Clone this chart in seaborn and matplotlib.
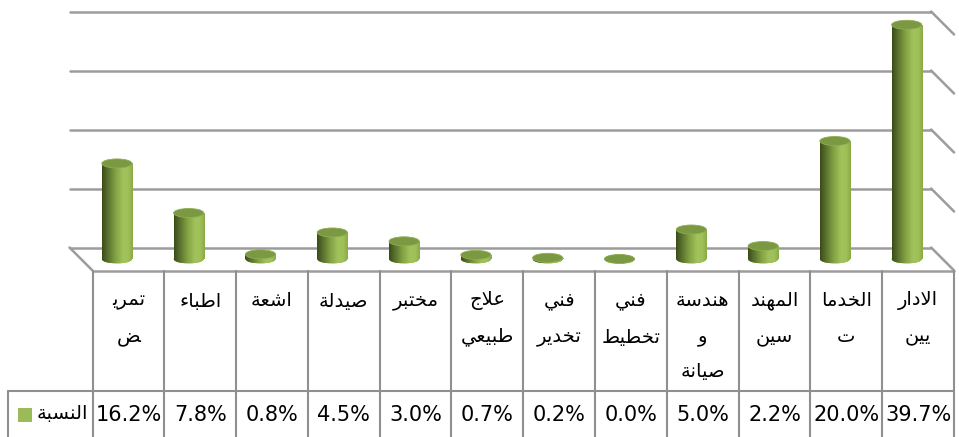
import numpy as np
import pandas as pd
import seaborn as sns
import matplotlib
matplotlib.use("Agg")
import matplotlib.pyplot as plt
from matplotlib.patches import Ellipse, Rectangle
from matplotlib.lines import Line2D
from matplotlib.colors import LinearSegmentedColormap
import matplotlib.transforms as mtrans

# ---------------- data ----------------
# "\n" separates words onto lines, "\u00ad" marks a break inside a word
categories = ["تمري\u00adض", "اطباء", "اشعة", "صيدلة", "مختبر", "علاج\nطبيعي",
              "فني\nتخدير", "فني\nتخطيط", "هندسة\nو\nصيانة", "المهند\u00adسين",
              "الخدما\u00adت", "الادار\u00adيين"]
values = [16.2, 7.8, 0.8, 4.5, 3.0, 0.7, 0.2, 0.0, 5.0, 2.2, 20.0, 39.7]
series_name = "النسبة"
grid_levels = [0, 10, 20, 30, 40]

# ---------------- minimal Arabic shaping ----------------
FORMS = {
    "\u0621": ("\ufe80",),
    "\u0627": ("\ufe8d", "\ufe8e"),
    "\u0628": ("\ufe8f", "\ufe90", "\ufe91", "\ufe92"),
    "\u0629": ("\ufe93", "\ufe94"),
    "\u062a": ("\ufe95", "\ufe96", "\ufe97", "\ufe98"),
    "\u062c": ("\ufe9d", "\ufe9e", "\ufe9f", "\ufea0"),
    "\u062e": ("\ufea5", "\ufea6", "\ufea7", "\ufea8"),
    "\u062f": ("\ufea9", "\ufeaa"),
    "\u0631": ("\ufead", "\ufeae"),
    "\u0633": ("\ufeb1", "\ufeb2", "\ufeb3", "\ufeb4"),
    "\u0634": ("\ufeb5", "\ufeb6", "\ufeb7", "\ufeb8"),
    "\u0635": ("\ufeb9", "\ufeba", "\ufebb", "\ufebc"),
    "\u0636": ("\ufebd", "\ufebe", "\ufebf", "\ufec0"),
    "\u0637": ("\ufec1", "\ufec2", "\ufec3", "\ufec4"),
    "\u0639": ("\ufec9", "\ufeca", "\ufecb", "\ufecc"),
    "\u0641": ("\ufed1", "\ufed2", "\ufed3", "\ufed4"),
    "\u0644": ("\ufedd", "\ufede", "\ufedf", "\ufee0"),
    "\u0645": ("\ufee1", "\ufee2", "\ufee3", "\ufee4"),
    "\u0646": ("\ufee5", "\ufee6", "\ufee7", "\ufee8"),
    "\u0647": ("\ufee9", "\ufeea", "\ufeeb", "\ufeec"),
    "\u0648": ("\ufeed", "\ufeee"),
    "\u064a": ("\ufef1", "\ufef2", "\ufef3", "\ufef4"),
}
SOFT = "\u00ad"


def _dual(c):
    return c in FORMS and len(FORMS[c]) == 4


def _joining(c):
    return c in FORMS and len(FORMS[c]) >= 2


def shape_lines(text):
    """Return display lines (visual order) for an Arabic label."""
    chars = list(text)
    n = len(chars)

    def neighbour(i, step):
        j = i + step
        while 0 <= j < n and chars[j] == SOFT:
            j += step
        return chars[j] if 0 <= j < n else None

    out = []
    i = 0
    while i < n:
        c = chars[i]
        if c not in FORMS:
            out.append(c)
            i += 1
            continue
        prev = neighbour(i, -1)
        prev_joins = prev is not None and _dual(prev)
        nxt = neighbour(i, 1)
        if c == "\u0644" and nxt == "\u0627":
            out.append("\ufefc" if prev_joins else "\ufefb")
            i += 2
            continue
        next_joins = nxt is not None and _joining(nxt)
        f = FORMS[c]
        if len(f) == 1:
            out.append(f[0])
        elif len(f) == 2:
            out.append(f[1] if prev_joins else f[0])
        else:
            if prev_joins and next_joins:
                out.append(f[3])
            elif prev_joins:
                out.append(f[1])
            elif next_joins:
                out.append(f[2])
            else:
                out.append(f[0])
        i += 1
    shaped = "".join(out).replace(SOFT, "\n")
    return [ln[::-1] for ln in shaped.split("\n")]


# ---------------- figure ----------------
sns.set_style("white")
plt.rcParams["font.family"] = ["DejaVu Sans"]

W, H = 959, 437
fig = plt.figure(figsize=(W / 100, H / 100), dpi=100)
fig.patch.set_facecolor("white")

px_cat = 71.8          # pixels per category
px_pct = 5.9           # pixels per percentage point
y0_pix = 259.0         # pixel row of 0 %
left_pix = 81.0
ylo, yhi = -3.0, 41.0
ax_bottom = (H - (y0_pix - ylo * px_pct)) / H
ax_height = (yhi - ylo) * px_pct / H
ax = fig.add_axes([left_pix / W, ax_bottom, 12 * px_cat / W, ax_height])
ax.set_facecolor("none")

df = pd.DataFrame({"category": categories, "value": values})
bar_w = 0.42
sns.barplot(data=df, x="category", y="value", order=categories, color="#8fae4c",
            width=bar_w, ax=ax, saturation=1, zorder=3)

ax.set_xlim(-0.5, 11.5)
ax.set_ylim(ylo, yhi)
ax.set_axis_off()

# depth offsets (half the floor depth) in data units
dxd = 11.5 / px_cat
dyd = 11.5 / px_pct

grid_col = "#9c9c9c"
line_kw = dict(color=grid_col, lw=1.8, clip_on=False, zorder=1, solid_capstyle="round")
for g in grid_levels:
    ax.plot([-0.5 - dxd, 11.5 - dxd], [g + dyd, g + dyd], **line_kw)
    ax.plot([11.5 - dxd, 11.5 + dxd], [g + dyd, g - dyd], **line_kw)
# floor
ax.plot([-0.5 - dxd, -0.5 + dxd], [dyd, -dyd], **line_kw)
ax.plot([-0.5 + dxd, 11.5 + dxd], [-dyd, -dyd], **line_kw)

# cylinder shading
cyl_cmap = LinearSegmentedColormap.from_list(
    "cyl", [(0.0, "#3a4b17"), (0.15, "#53692a"), (0.45, "#84a444"),
            (0.68, "#a2c25c"), (0.85, "#a0c05a"), (1.0, "#8aa948")])
grad = np.linspace(0, 1, 256).reshape(1, -1)
ell_h = 9.0 / px_pct
top_col = "#7a9942"

for p in list(ax.patches):
    x0, w, h = p.get_x(), p.get_width(), p.get_height()
    xc = x0 + w / 2
    p.set_edgecolor("none")
    # rounded base
    base = Ellipse((xc, 0), w, ell_h, facecolor="#8cab4a", edgecolor="none",
                   zorder=2.5, clip_on=False)
    ax.add_patch(base)
    im = ax.imshow(grad, extent=[x0, x0 + w, -ell_h / 2, ell_h / 2], aspect="auto",
                   cmap=cyl_cmap, zorder=2.6, interpolation="bilinear")
    im.set_clip_path(base)
    # body
    if h > 0:
        im = ax.imshow(grad, extent=[x0, x0 + w, 0, h], aspect="auto",
                       cmap=cyl_cmap, zorder=3.1, interpolation="bilinear")
        im.set_clip_path(p)
    # top face
    ax.add_patch(Ellipse((xc, h), w, ell_h, facecolor=top_col, edgecolor="#8fae52",
                         lw=0.6, zorder=4, clip_on=False))

ax.set_xlim(-0.5, 11.5)
ax.set_ylim(ylo, yhi)

# ---------------- data table ----------------
tab_col = "#8f8f8f"
blend = mtrans.blended_transform_factory(ax.transData, fig.transFigure)
floor_front_y = fig.transFigure.inverted().transform(ax.transData.transform((0, -dyd)))[1]
for i in range(len(categories) + 1):
    xb = i - 0.5 + dxd
    fig.add_artist(Line2D([xb, xb], [floor_front_y, 0], transform=blend,
                          color=tab_col, lw=1.5))

row_y = 1 - 391 / H
right_fig = fig.transFigure.inverted().transform(ax.transData.transform((11.5 + dxd, 0)))[0]
fig.add_artist(Line2D([8 / W, right_fig], [row_y, row_y], transform=fig.transFigure,
                      color=tab_col, lw=1.5))
fig.add_artist(Line2D([8 / W, 8 / W], [row_y, 0], transform=fig.transFigure,
                      color=tab_col, lw=1.5))

line_rows = [301, 337, 372]
for i, (cat, v) in enumerate(zip(categories, values)):
    xc = i + dxd
    for k, ln in enumerate(shape_lines(cat)):
        ax.text(xc, 1 - line_rows[k] / H, ln, transform=blend, ha="center", va="center",
                fontsize=14, color="black")
    ax.text(xc, 1 - 415 / H, f"{v:.1f}%", transform=blend, ha="center", va="center",
            fontsize=15, color="black")

# legend key in the first column
fig.add_artist(Rectangle((18 / W, 1 - 422 / H), 14 / W, 14 / H, transform=fig.transFigure,
                         facecolor="#9bbb59", edgecolor="none"))
fig.text(62 / W, 1 - 414 / H, shape_lines(series_name)[0], ha="center", va="center",
         fontsize=14, color="black")

fig.savefig("out.png", dpi=100, facecolor="white")
